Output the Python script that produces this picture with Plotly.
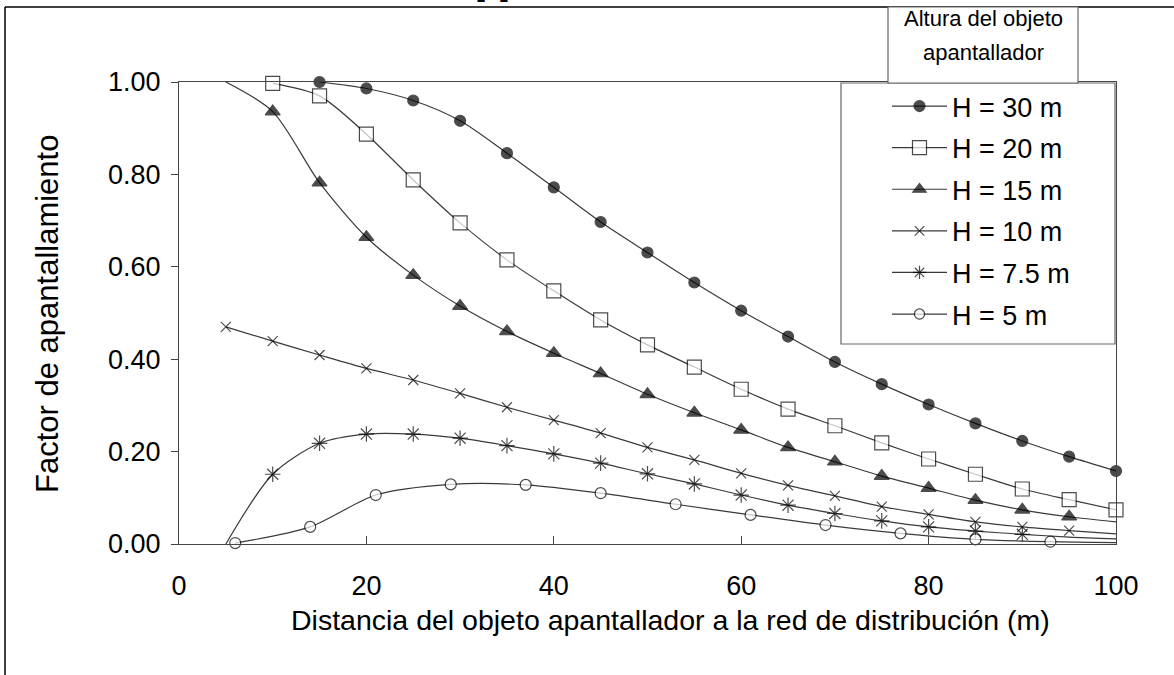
import plotly.graph_objects as go

# ---------------- data ----------------
x_h30 = [15, 20, 25, 30, 35, 40, 45, 50, 55, 60, 65, 70, 75, 80, 85, 90, 95, 100]
y_h30 = [1.00, 0.986, 0.960, 0.916, 0.846, 0.772, 0.697, 0.631, 0.566, 0.505, 0.449, 0.394,
         0.346, 0.302, 0.261, 0.223, 0.189, 0.158]

x_h20 = [10, 15, 20, 25, 30, 35, 40, 45, 50, 55, 60, 65, 70, 75, 80, 85, 90, 95, 100]
y_h20 = [0.997, 0.970, 0.887, 0.788, 0.695, 0.615, 0.548, 0.485, 0.431, 0.383, 0.335, 0.292,
         0.256, 0.219, 0.184, 0.151, 0.119, 0.096, 0.074]

x_h15 = [5, 10, 15, 20, 25, 30, 35, 40, 45, 50, 55, 60, 65, 70, 75, 80, 85, 90, 95, 100]
y_h15 = [1.00, 0.936, 0.782, 0.664, 0.582, 0.515, 0.460, 0.413, 0.369, 0.324, 0.284, 0.247,
         0.209, 0.178, 0.147, 0.121, 0.095, 0.074, 0.059, 0.048]

x_h10 = [5, 10, 15, 20, 25, 30, 35, 40, 45, 50, 55, 60, 65, 70, 75, 80, 85, 90, 95, 100]
y_h10 = [0.470, 0.439, 0.409, 0.380, 0.355, 0.326, 0.296, 0.268, 0.240, 0.209, 0.182, 0.153,
         0.127, 0.104, 0.081, 0.064, 0.048, 0.037, 0.029, 0.022]

x_h75 = [5, 10, 15, 20, 25, 30, 35, 40, 45, 50, 55, 60, 65, 70, 75, 80, 85, 90, 95, 100]
y_h75 = [0.0, 0.151, 0.218, 0.238, 0.238, 0.229, 0.213, 0.195, 0.175, 0.152, 0.130, 0.106,
         0.084, 0.066, 0.050, 0.037, 0.028, 0.021, 0.015, 0.011]

x_h5 = [6, 14, 21, 29, 37, 45, 53, 61, 69, 77, 85, 93, 100]
y_h5 = [0.002, 0.037, 0.106, 0.129, 0.128, 0.110, 0.086, 0.063, 0.041, 0.023, 0.010, 0.005, 0.003]

series_names = ["H = 30 m", "H = 20 m", "H = 15 m", "H = 10 m", "H = 7.5 m", "H = 5 m"]
x_ticks = [0, 20, 40, 60, 80, 100]
y_ticks = [0.0, 0.2, 0.4, 0.6, 0.8, 1.0]

x_title = "Distancia del objeto apantallador a la red de distribución (m)"
y_title = "Factor de apantallamiento"
box_title = ["Altura del objeto", "apantallador"]

# ---------------- geometry helpers (pixel -> paper) ----------------
W, H = 1174, 675
L, R, T, B = 179, 58, 82, 131
PW, PH = W - L - R, H - T - B


def px(xp):
    return (xp - L) / PW


def py(yp):
    return (H - B - yp) / PH


FONT = "Liberation Sans, Arial, sans-serif"
LINE_COL = "#3a3a3a"

# marker styles per series; first/last-without-marker rules (styles only)
styles = [
    dict(symbol="circle", size=11, color="black", lc="black", hide_first=False, hide_after=None),
    dict(symbol="square", size=14, color="white", lc="black", hide_first=False, hide_after=None),
    dict(symbol="triangle-up", size=13, color="black", lc="black", hide_first=True, hide_after=95),
    dict(symbol="x-thin-open", size=10, color="black", lc="black", hide_first=False, hide_after=95),
    dict(symbol="asterisk-open", size=13, color="black", lc="black", hide_first=True, hide_after=90),
    dict(symbol="circle", size=11, color="white", lc="black", hide_first=False, hide_after=93),
]
xs = [x_h30, x_h20, x_h15, x_h10, x_h75, x_h5]
ys = [y_h30, y_h20, y_h15, y_h10, y_h75, y_h5]

fig = go.Figure()
for i, (xx, yy, name, st) in enumerate(zip(xs, ys, series_names, styles)):
    sizes = []
    for j, xv in enumerate(xx):
        s = st["size"]
        if st["hide_first"] and j == 0:
            s = 0
        if st["hide_after"] is not None and xv > st["hide_after"]:
            s = 0
        sizes.append(s)
    fig.add_trace(go.Scatter(
        x=xx, y=yy, name=name, mode="lines+markers",
        legendgroup=f"g{i}",
        line=dict(color=LINE_COL, width=1.2, shape="spline", smoothing=0.8),
        marker=dict(symbol=st["symbol"], size=sizes, color=st["color"],
                    line=dict(color=st["lc"], width=1.2)),
        cliponaxis=False,
    ))

shapes = [
    # outer figure frame (top and left)
    dict(type="line", xref="paper", yref="paper", x0=px(5), x1=px(1180), y0=py(7), y1=py(7),
         line=dict(color="black", width=1.5)),
    dict(type="line", xref="paper", yref="paper", x0=px(5), x1=px(5), y0=py(7), y1=py(680),
         line=dict(color="black", width=1.5)),
    # legend box
    dict(type="rect", xref="paper", yref="paper", x0=px(841), x1=px(1115), y0=py(344), y1=py(83),
         line=dict(color="#666666", width=1.2), fillcolor="white", layer="above"),
    # legend title box
    dict(type="rect", xref="paper", yref="paper", x0=px(888), x1=px(1078), y0=py(83), y1=py(7),
         line=dict(color="#666666", width=1.2), fillcolor="white", layer="above"),
]

annotations = [
    dict(text=x_title, xref="paper", yref="paper", x=px(670), y=py(620), showarrow=False,
         xanchor="center", yanchor="middle", font=dict(family=FONT, size=28.5, color="black")),
    dict(text=y_title, xref="paper", yref="paper", x=px(47), y=py(314), showarrow=False,
         textangle=-90, xanchor="center", yanchor="middle",
         font=dict(family=FONT, size=31, color="black")),
    dict(text=box_title[0], xref="paper", yref="paper", x=px(983), y=py(19), showarrow=False,
         xanchor="center", yanchor="middle", font=dict(family=FONT, size=22, color="black")),
    dict(text=box_title[1], xref="paper", yref="paper", x=px(983), y=py(52), showarrow=False,
         xanchor="center", yanchor="middle", font=dict(family=FONT, size=22, color="black")),
    dict(text="<b>[1]</b>", xref="paper", yref="paper", x=px(492), y=py(4), showarrow=False,
         xanchor="center", yanchor="bottom", font=dict(family=FONT, size=27, color="black")),
]

fig.update_layout(
    width=W, height=H,
    margin=dict(l=L, r=R, t=T, b=B, pad=0),
    paper_bgcolor="white", plot_bgcolor="white",
    font=dict(family=FONT, size=27, color="black"),
    showlegend=True,
    legend=dict(x=px(887), y=py(82), xanchor="left", yanchor="top",
                bgcolor="rgba(0,0,0,0)", borderwidth=0,
                font=dict(family=FONT, size=27, color="black"),
                tracegroupgap=3.5, itemwidth=55),
    shapes=shapes,
    annotations=annotations,
)
fig.update_xaxes(range=[0, 100], tickvals=x_ticks, ticks="inside", ticklen=8, tickcolor="#444",
                 showline=True, linecolor="#444", linewidth=1.2, mirror=True, showgrid=False,
                 zeroline=False, ticklabelstandoff=17,
                 tickfont=dict(family=FONT, size=27, color="black"))
fig.update_yaxes(range=[0, 1], tickvals=y_ticks, tickformat=".2f", ticks="outside", ticklen=7,
                 tickcolor="#444", showline=True, linecolor="#444", linewidth=1.2, mirror=True,
                 showgrid=False, zeroline=False, ticklabelstandoff=5,
                 tickfont=dict(family=FONT, size=27, color="black"))

fig.write_html("out.html")
